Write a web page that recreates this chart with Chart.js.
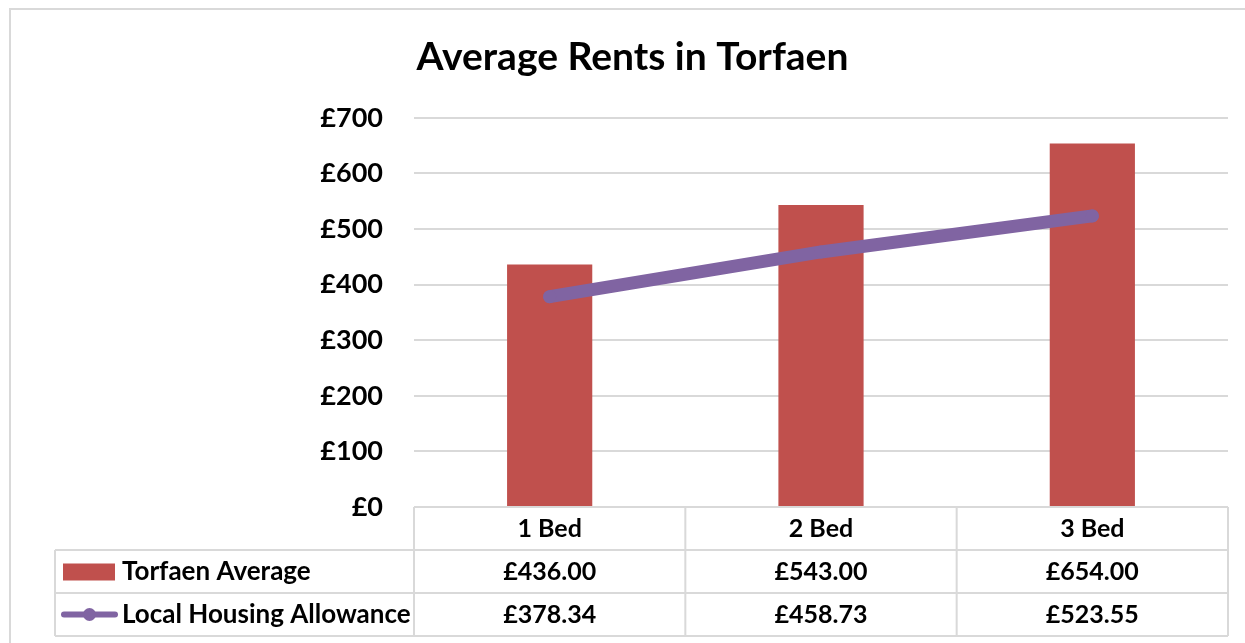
<!DOCTYPE html>
<html>
<head>
<meta charset="utf-8">
<script src="https://cdn.jsdelivr.net/npm/chart.js@4.4.0/dist/chart.umd.min.js"></script>
<style>
  html, body { margin: 0; padding: 0; background: #ffffff; }
  #wrap { width: 1245px; height: 643px; }
</style>
</head>
<body>
<div id="wrap"><canvas id="c" width="1245" height="643"></canvas></div>
<script>
const categories = ["1 Bed", "2 Bed", "3 Bed"];
const torfaenAverage = [436.00, 543.00, 654.00];
const localHousingAllowance = [378.34, 458.73, 523.55];
const seriesNames = ["Torfaen Average", "Local Housing Allowance"];
const yTicks = [0, 100, 200, 300, 400, 500, 600, 700];
const chartTitle = "Average Rents in Torfaen";

const FONT = "Lato, 'Open Sans', sans-serif";
const RED = "#C0504D";
const PURPLE = "#8064A2";
const GRID = "#d9d9d9";

const tablePlugin = {
  id: "dataTable",
  beforeDraw(chart) {
    const ctx = chart.ctx;
    ctx.save();
    ctx.fillStyle = "#ffffff";
    ctx.fillRect(0, 0, chart.width, chart.height);
    ctx.strokeStyle = GRID;
    ctx.lineWidth = 2;
    ctx.strokeRect(10, 9, chart.width + 100, chart.height + 100);
    ctx.restore();
  },
  afterDraw(chart) {
    const ctx = chart.ctx;
    const area = chart.chartArea;
    const xs = chart.scales.x;
    const n = categories.length;
    const colW = (area.right - area.left) / n;
    const rowH = 43;
    const top = area.bottom;
    const legendLeft = 55;
    ctx.save();
    // title, centred on the whole canvas
    ctx.fillStyle = "#000000";
    ctx.font = "bold 39px " + FONT;
    ctx.textAlign = "center";
    ctx.textBaseline = "middle";
    ctx.fillText(chartTitle, chart.width / 2 + 10, 57);

    ctx.strokeStyle = GRID;
    ctx.lineWidth = 2;
    ctx.beginPath();
    ctx.moveTo(area.left, top); ctx.lineTo(area.right, top);
    for (let r = 1; r <= 3; r++) {
      ctx.moveTo(legendLeft, top + r * rowH); ctx.lineTo(area.right, top + r * rowH);
    }
    ctx.moveTo(legendLeft, top + rowH); ctx.lineTo(legendLeft, top + 3 * rowH);
    for (let i = 0; i <= n; i++) {
      const x = area.left + i * colW;
      ctx.moveTo(x, top); ctx.lineTo(x, top + 3 * rowH);
    }
    ctx.stroke();

    ctx.fillStyle = "#000000";
    ctx.font = "bold 25px " + FONT;
    ctx.textBaseline = "middle";
    ctx.textAlign = "center";
    const rows = [torfaenAverage, localHousingAllowance];
    for (let i = 0; i < n; i++) {
      const cx = xs.getPixelForValue(i);
      ctx.fillText(categories[i], cx, top + rowH * 0.5);
      rows.forEach((vals, r) => {
        ctx.fillText("£" + vals[i].toFixed(2), cx, top + rowH * (r + 1.5));
      });
    }
    ctx.textAlign = "left";
    const y1 = top + rowH * 1.5;
    const y2 = top + rowH * 2.5;
    ctx.fillStyle = RED;
    ctx.fillRect(63, y1 - 8, 52, 17);
    ctx.strokeStyle = PURPLE;
    ctx.lineWidth = 6;
    ctx.lineCap = "round";
    ctx.beginPath();
    ctx.moveTo(64, y2); ctx.lineTo(115, y2);
    ctx.stroke();
    ctx.fillStyle = PURPLE;
    ctx.beginPath();
    ctx.arc(89.5, y2, 6.5, 0, Math.PI * 2);
    ctx.fill();
    ctx.fillStyle = "#000000";
    ctx.font = "bold 26px " + FONT;
    ctx.fillText(seriesNames[0], 122, y1);
    ctx.fillText(seriesNames[1], 122, y2);
    ctx.restore();
  }
};

new Chart(document.getElementById("c"), {
  data: {
    labels: categories,
    datasets: [
      {
        type: "line",
        label: seriesNames[1],
        data: localHousingAllowance,
        borderColor: PURPLE,
        backgroundColor: PURPLE,
        borderWidth: 13,
        borderCapStyle: "round",
        borderJoinStyle: "round",
        pointRadius: 6.5,
        pointBorderWidth: 0,
        pointBackgroundColor: PURPLE,
        tension: 0,
        order: 0
      },
      {
        type: "bar",
        label: seriesNames[0],
        data: torfaenAverage,
        backgroundColor: RED,
        borderWidth: 0,
        categoryPercentage: 1,
        barPercentage: 0.314,
        order: 1
      }
    ]
  },
  options: {
    responsive: false,
    animation: false,
    devicePixelRatio: 1,
    layout: { padding: { left: 314, right: 17, top: 0, bottom: 128 } },
    plugins: {
      legend: { display: false },
      tooltip: { enabled: false },
      title: {
        display: true,
        text: chartTitle,
        color: "rgba(0,0,0,0)",
        font: { family: FONT, size: 34, weight: "bold", lineHeight: 1.2 },
        padding: { top: 36, bottom: 41 }
      }
    },
    scales: {
      x: {
        display: true,
        grid: { display: false },
        border: { display: false },
        ticks: { display: false }
      },
      y: {
        min: 0,
        max: 700,
        afterFit(scale) { scale.width = 100; },
        afterBuildTicks(scale) { scale.ticks = yTicks.map(v => ({ value: v })); },
        grid: { color: GRID, lineWidth: 2, drawTicks: false },
        border: { display: false },
        ticks: {
          color: "#000000",
          padding: 31,
          font: { family: FONT, size: 27, weight: "bold" },
          callback: v => "£" + v
        }
      }
    }
  },
  plugins: [tablePlugin]
});
</script>
</body>
</html>
